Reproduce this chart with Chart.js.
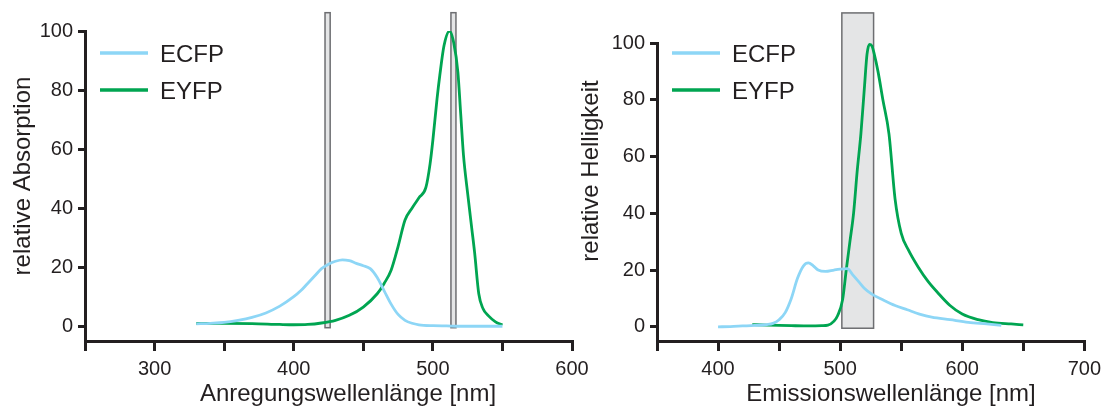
<!DOCTYPE html>
<html>
<head>
<meta charset="utf-8">
<script src="https://cdn.jsdelivr.net/npm/chart.js@4.4.1/dist/chart.umd.min.js"></script>
<style>
  body { margin: 0; background: #fff; }
  #wrap { position: relative; width: 1107px; height: 408px; }
  #anregung { position: absolute; left: 0; top: 0; }
  #emission { position: absolute; left: 570px; top: 0; }
</style>
</head>
<body>
<div id="wrap">
  <canvas id="anregung" width="600" height="408"></canvas>
  <canvas id="emission" width="537" height="408"></canvas>
</div>
<script>
// Anregung (Absorption)
const absEcfpNm = [330, 340, 350, 360, 370, 380, 390, 400, 405, 410, 415, 420, 425, 430, 435, 440, 445, 450, 455, 460, 465, 470, 475, 480, 485, 490, 500, 510, 520, 535, 550];
const absEcfp   = [0.8, 1.0, 1.3, 2.0, 3.0, 4.5, 6.8, 10, 12, 14.5, 17, 19.5, 21, 22, 22.5, 22.2, 21.3, 20.5, 19.5, 16.5, 12, 7.5, 4, 2, 1, 0.5, 0.2, 0.1, 0, 0, 0];
const absEyfpNm = [330, 350, 370, 390, 400, 410, 420, 430, 440, 450, 460, 465, 470, 475, 480, 485, 490, 495, 498, 500, 503, 505, 508, 512, 515, 518, 520, 522, 525, 528, 530, 533, 536, 540, 545, 550];
const absEyfp   = [1, 1, 0.9, 0.6, 0.5, 0.6, 1.1, 2, 3.7, 6.5, 11, 14.5, 19, 27, 36, 40, 43.5, 47, 55, 63, 77, 85, 95, 100, 96, 86, 72, 58, 45, 33, 25, 11, 6, 3.5, 1.5, 0.4];
const absFilter = [[422.5, 426.2], [513, 516.6]];

// Emission (Helligkeit)
const emEcfpNm = [400, 410, 420, 430, 440, 445, 450, 455, 460, 465, 470, 474, 478, 482, 488, 495, 500, 506, 510, 515, 520, 526, 535, 545, 555, 565, 575, 590, 605, 620, 632];
const emEcfp   = [0, 0.1, 0.3, 0.5, 0.8, 1.2, 2.5, 5, 10, 17, 21.5, 22.5, 21.5, 20, 19.5, 20, 20.3, 20.5, 18.5, 16, 13.5, 11.5, 9.5, 7.5, 6, 4.5, 3.4, 2.5, 1.6, 1, 0.5];
const emEyfpNm = [428, 440, 460, 475, 485, 490, 495, 498, 502, 505, 508, 511, 514, 517, 520, 522, 524, 526, 528, 531, 535, 540, 545, 550, 556, 564, 572, 580, 590, 600, 613, 625, 640, 650];
const emEyfp   = [0.8, 0.6, 0.4, 0.3, 0.4, 0.6, 2, 4, 9.5, 20, 30, 40, 55, 68, 85, 96, 99.5, 99, 96, 90, 80, 68, 45, 33, 27, 21, 16, 12, 7.5, 4.5, 2.5, 1.5, 1, 0.7];
const emFilter = [[501.4, 527.4]];

const yTicks = [0, 20, 40, 60, 80, 100];

const ECFP_COLOR = '#8dd6f6';
const EYFP_COLOR = '#00a551';
const INK = '#231f20';
const FONT = '"Liberation Sans", Arial, sans-serif';

function pairs(xs, ys) {
  return xs.map((x, i) => ({ x: x, y: ys[i] }));
}

// grey filter windows behind the curves
const bandPlugin = {
  id: 'filterBands',
  beforeDatasetsDraw(chart, args, o) {
    const ctx = chart.ctx;
    const xs = chart.scales.x, ys = chart.scales.y;
    const top = ys.getPixelForValue(o.top);
    const bottom = ys.getPixelForValue(o.bottom);
    ctx.save();
    ctx.fillStyle = '#e4e5e6';
    ctx.strokeStyle = '#6d6e71';
    ctx.lineWidth = 1.5;
    o.bands.forEach(b => {
      const x1 = xs.getPixelForValue(b[0]);
      const x2 = xs.getPixelForValue(b[1]);
      ctx.fillRect(x1, top, x2 - x1, bottom - top);
      ctx.strokeRect(x1, top, x2 - x1, bottom - top);
    });
    ctx.restore();
  }
};

const legendPlugin = {
  id: 'lineLegend',
  afterDatasetsDraw(chart, args, o) {
    const ctx = chart.ctx;
    ctx.save();
    ctx.font = '24px ' + FONT;
    ctx.textBaseline = 'alphabetic';
    chart.data.datasets.forEach((ds, i) => {
      const yy = o.y + i * 37;
      ctx.strokeStyle = ds.borderColor;
      ctx.lineWidth = 3.5;
      ctx.beginPath();
      ctx.moveTo(o.x, yy);
      ctx.lineTo(o.x + 48, yy);
      ctx.stroke();
      ctx.fillStyle = INK;
      ctx.fillText(ds.label, o.x + 60, yy + 8.5);
    });
    ctx.restore();
  }
};

const titlePlugin = {
  id: 'axisTitles',
  afterDraw(chart, args, o) {
    const ctx = chart.ctx;
    ctx.save();
    ctx.font = '24px ' + FONT;
    ctx.fillStyle = INK;
    ctx.textAlign = 'center';
    ctx.textBaseline = 'alphabetic';
    ctx.fillText(o.xText, o.xPos[0], o.xPos[1]);
    ctx.translate(o.yPos[0], o.yPos[1]);
    ctx.rotate(-Math.PI / 2);
    ctx.fillText(o.yText, 0, 0);
    ctx.restore();
  }
};

function makeChart(id, c) {
  return new Chart(document.getElementById(id), {
    type: 'line',
    data: {
      datasets: [
        { label: 'ECFP', data: pairs(c.ecfpNm, c.ecfp), borderColor: ECFP_COLOR },
        { label: 'EYFP', data: pairs(c.eyfpNm, c.eyfp), borderColor: EYFP_COLOR }
      ]
    },
    options: {
      responsive: false,
      animation: false,
      layout: { padding: { top: c.top, right: c.right, left: 0, bottom: 0 } },
      elements: {
        point: { radius: 0 },
        line: { borderWidth: 2.8, cubicInterpolationMode: 'monotone' }
      },
      scales: {
        x: {
          type: 'linear',
          min: c.xMin,
          max: c.xMax,
          afterFit: s => { s.height = 67; },
          ticks: {
            stepSize: 50,
            autoSkip: false,
            maxRotation: 0,
            padding: 6,
            color: INK,
            font: { family: FONT, size: 20 },
            callback: v => (v % 100 === 0 ? v : '')
          },
          grid: { drawOnChartArea: false, tickLength: 10, color: INK, lineWidth: 3 },
          border: { color: INK, width: 3 }
        },
        y: {
          min: -5,
          max: 100,
          afterFit: s => { s.width = c.yAxisW; },
          afterBuildTicks: s => { s.ticks = yTicks.map(v => ({ value: v })); },
          ticks: {
            padding: 5,
            color: INK,
            font: { family: FONT, size: 20 }
          },
          grid: { drawOnChartArea: false, tickLength: 7, color: INK, lineWidth: 3 },
          border: { color: INK, width: 3 }
        }
      },
      plugins: {
        legend: { display: false },
        tooltip: { enabled: false },
        filterBands: { bands: c.bands, top: c.bandTop, bottom: -0.5 },
        lineLegend: { x: c.legendX, y: 53 },
        axisTitles: { xText: c.xTitle, xPos: c.xTitlePos, yText: c.yTitle, yPos: c.yTitlePos }
      }
    },
    plugins: [bandPlugin, legendPlugin, titlePlugin]
  });
}

makeChart('anregung', {
  ecfpNm: absEcfpNm, ecfp: absEcfp, eyfpNm: absEyfpNm, eyfp: absEyfp,
  xMin: 250, xMax: 600, top: 31, right: 28, yAxisW: 85,
  bands: absFilter, bandTop: 106.2, legendX: 100,
  xTitle: 'Anregungswellenlänge [nm]', xTitlePos: [348, 401],
  yTitle: 'relative Absorption', yTitlePos: [30, 176]
});

makeChart('emission', {
  ecfpNm: emEcfpNm, ecfp: emEcfp, eyfpNm: emEyfpNm, eyfp: emEyfp,
  xMin: 350, xMax: 700, top: 43, right: 20, yAxisW: 87,
  bands: emFilter, bandTop: 110.6, legendX: 102,
  xTitle: 'Emissionswellenlänge [nm]', xTitlePos: [321, 401],
  yTitle: 'relative Helligkeit', yTitlePos: [28, 171]
});
</script>
</body>
</html>
